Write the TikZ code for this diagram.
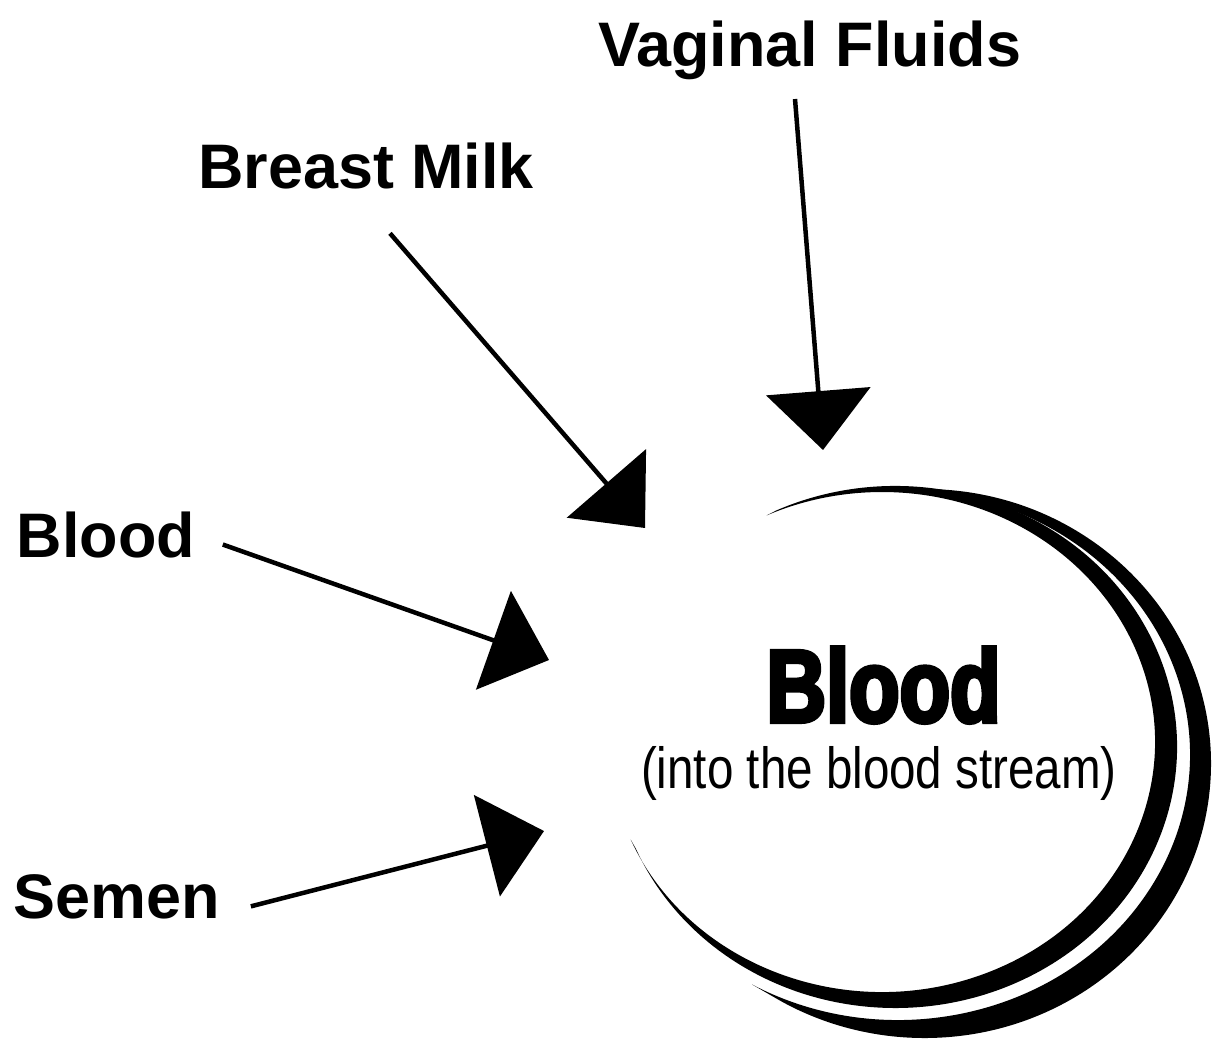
\documentclass[tikz,border=0pt]{standalone}
\usepackage{fontspec}
\setmainfont{Liberation Sans}
\newfontfamily\narrowfont{Liberation Sans}[FakeStretch=0.82]
\newfontfamily\heavyfont{Liberation Sans}[FakeStretch=0.8,FakeBold=4]
\usetikzlibrary{arrows.meta,calc}

\begin{document}
\begin{tikzpicture}[x=0.1mm,y=0.1mm,>={Triangle[length=5.9mm,width=10.4mm]},
    lbl/.style={inner sep=0pt,anchor=base,font=\bfseries\fontsize{17.9}{21}\selectfont},
    feed/.style={->,line width=0.45mm}]
    \useasboundingbox (0,0) rectangle (1212,-1041);
    % the sources
    \node[lbl] (vf) at (809.5,-66) {Vaginal Fluids};
    \node[lbl] (bm) at (366,-188) {Breast Milk};
    \node[lbl] (bl) at (106,-557) {Blood};
    \node[lbl] (sm) at (117,-918) {Semen};
    % the target
    \node[inner sep=0pt,anchor=base,font=\heavyfont\bfseries\fontsize{29.4}{32}\selectfont] (blood) at (883.5,-722) {Blood};
    \node[inner sep=0pt,anchor=base,font=\narrowfont\fontsize{16.5}{19}\selectfont] (stream) at (879,-788) {(into the blood stream)};
    % arrow tips
    \coordinate (vf-in) at (823,-450);
    \coordinate (bm-in) at (645,-528);
    \coordinate (bl-in) at (549,-660);
    \coordinate (sm-in) at (544,-831);
    \draw[feed] ($(vf.south)+(-14.5,-19)$) -- (vf-in);
    \draw[feed] ($(bm.south)+(24,-44)$) -- (bm-in);
    \draw[feed] ($(bl.east)+(27,-10)$) -- (bl-in);
    \draw[feed] ($(sm.east)+(30,-10)$) -- (sm-in);
    % brush strokes round the target
    \fill ([shift={(115:281.7 and 261)}]895.3,-747) arc[start angle=115,end angle=-157,x radius=281.7,y radius=261]
        -- ([shift={(-157:273 and 250)}]882,-742) arc[start angle=-157,end angle=115,x radius=273,y radius=250] -- cycle;
    \fill ([shift={(90:286.6 and 274.5)}]924.4,-763.5) arc[start angle=90,end angle=-120,x radius=286.6,y radius=274.5]
        -- ([shift={(-120:292 and 265.5)}]898,-754.5) arc[start angle=-120,end angle=90,x radius=292,y radius=265.5] -- cycle;
\end{tikzpicture}
\end{document}
